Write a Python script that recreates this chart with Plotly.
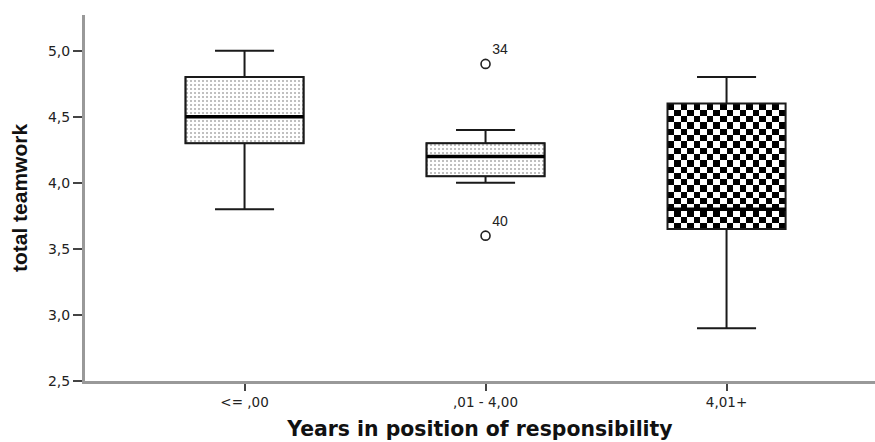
import numpy as np
import plotly.graph_objects as go

# Box-plot summary of total teamwork by years in a position of responsibility
categories = ["<= ,00", ",01 - 4,00", "4,01+"]
positions = [0, 1, 2]
lower_fence = [3.8, 4.0, 2.9]
q1 = [4.3, 4.05, 3.65]
median = [4.5, 4.2, 3.8]
q3 = [4.8, 4.3, 4.6]
upper_fence = [5.0, 4.4, 4.8]

# Outlying cases (case number shown beside each)
outlier_x = [1, 1]
outlier_y = [4.9, 3.6]
outlier_ids = ["34", "40"]

y_ticks = [2.5, 3.0, 3.5, 4.0, 4.5, 5.0]

BOX_W = 0.49
TICK_FONT = "DejaVu Sans, Verdana, sans-serif"
XTITLE_FONT = "DejaVu Sans, Verdana, sans-serif"
YTITLE_FONT = "Liberation Sans, Arial, sans-serif"

fig = go.Figure()

# checkerboard fill for the third group
cx = positions[2]
nx, ny = 18, 20
xe = np.linspace(cx - BOX_W / 2, cx + BOX_W / 2, nx + 1)
ye = np.linspace(q1[2], q3[2], ny + 1)
z = [[(i + j) % 2 for j in range(nx)] for i in range(ny)]
fig.add_trace(go.Heatmap(
    x=xe, y=ye, z=z, colorscale=[[0, "white"], [1, "black"]],
    showscale=False, hoverinfo="skip", zmin=0, zmax=1,
))

# stippled fill for the first two groups
fig.add_trace(go.Bar(
    x=positions[:2], base=q1[:2],
    y=[b - a for a, b in zip(q1[:2], q3[:2])],
    width=BOX_W,
    marker=dict(
        color="white",
        line=dict(color="#333333", width=1.5),
        pattern=dict(shape=".", fgcolor="#555555", bgcolor="white",
                     size=4, solidity=0.2),
    ),
    hoverinfo="skip", showlegend=False,
))

# box outlines and whiskers
fig.add_trace(go.Box(
    x=positions, q1=q1, median=median, q3=q3,
    lowerfence=lower_fence, upperfence=upper_fence,
    width=BOX_W, whiskerwidth=0.5,
    fillcolor="rgba(0,0,0,0)",
    line=dict(color="#1a1a1a", width=2),
    boxpoints=False, showlegend=False,
))

# heavier median bars
mx, my = [], []
for p, m in zip(positions, median):
    mx += [p - BOX_W / 2, p + BOX_W / 2, None]
    my += [m, m, None]
fig.add_trace(go.Scatter(
    x=mx, y=my, mode="lines",
    line=dict(color="black", width=3.5),
    hoverinfo="skip", showlegend=False,
))

# outliers with their case labels
fig.add_trace(go.Scatter(
    x=outlier_x, y=outlier_y, mode="markers+text",
    text=outlier_ids, textposition="top right",
    textfont=dict(family="Liberation Sans, Arial, sans-serif", size=14, color="#222222"),
    marker=dict(symbol="circle-open", size=9, color="#222222",
                line=dict(width=1.6)),
    showlegend=False,
))

fig.update_layout(
    width=875, height=442,
    margin=dict(l=85, r=0, t=15, b=61),
    paper_bgcolor="white", plot_bgcolor="white",
    separators=", ",
    showlegend=False,
    font=dict(family=TICK_FONT, color="#222222", size=12),
    barmode="overlay",
)

fig.update_xaxes(
    range=[-0.662, 2.616],
    tickvals=positions, ticktext=categories,
    showline=True, linecolor="#999999", linewidth=3,
    ticks="outside", ticklen=7, tickwidth=2, tickcolor="#444444",
    showgrid=False, zeroline=False,
    tickfont=dict(family=TICK_FONT, size=13.5, color="#222222"),
    title=dict(text="<b>Years in position of responsibility</b>",
               font=dict(family=XTITLE_FONT, size=20.4, color="#111111"),
               standoff=13),
)

fig.update_yaxes(
    range=[2.5, 5.27],
    tickvals=y_ticks, tickformat=".1f",
    showline=True, linecolor="#999999", linewidth=3,
    ticks="outside", ticklen=9, tickwidth=1.5, tickcolor="#444444",
    showgrid=False, zeroline=False,
    tickfont=dict(family=TICK_FONT, size=14, color="#222222"),
    title=dict(text="<b>total teamwork</b>",
               font=dict(family=YTITLE_FONT, size=21, color="#111111"),
               standoff=15),
)

fig.write_html("out.html")
